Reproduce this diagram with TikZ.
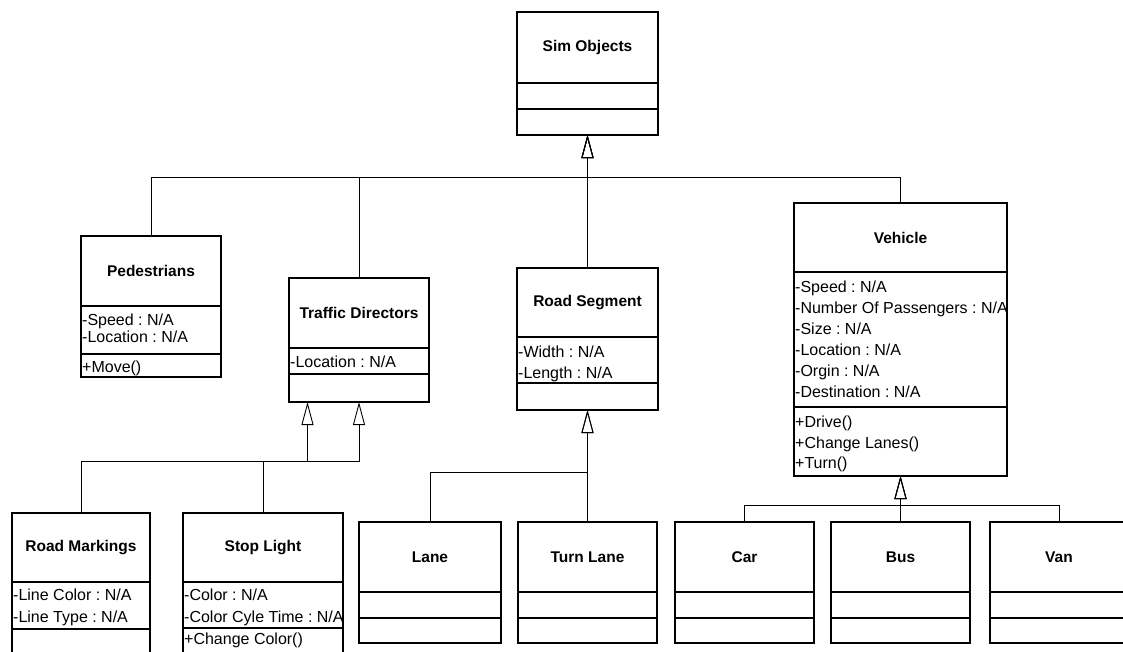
\documentclass[tikz,border=0pt]{standalone}
\usepackage{fontspec}
\setmainfont{Liberation Sans}
\usetikzlibrary{arrows.meta}
\frenchspacing

\tikzset{
  classbox/.style={draw, line width=1.1pt, inner sep=0pt, outer sep=0pt, fill=white},
  divider/.style={line width=1.1pt},
  classname/.style={font=\fontsize{15.5}{18}\selectfont\bfseries, inner sep=0pt},
  member/.style={font=\fontsize{16}{19}\selectfont, inner sep=0pt, anchor=base west},
  gen/.style={line width=0.9pt, -{Triangle[open, length=23pt, width=12pt, line width=0.9pt]}},
}

% UML class box: name, left, top, right, divider 1, divider 2, bottom, title
\newcommand\umlclass[8]{%
  \pgfmathsetmacro\clsW{#4-#2}%
  \pgfmathsetmacro\clsH{#7-#3}%
  \node[classbox, minimum width=\clsW pt, minimum height=\clsH pt] (#1) at ({(#2+#4)/2},{(#3+#7)/2}) {};
  \draw[divider] (#2,#5) -- (#4,#5);
  \draw[divider] (#2,#6) -- (#4,#6);
  \node[classname] (#1-name) at ({(#2+#4)/2},{(#3+#5)/2}) {#8};
}

% member lines: node prefix, x, first baseline, line step, list of lines
\newcommand\members[5]{%
  \foreach \mtext [count=\mi] in {#5} {
    \node[member] (#1\mi) at (#2,{#3+(\mi-1)*#4}) {\mtext};
  }
}

\begin{document}
\begin{tikzpicture}[x=1pt, y=-1pt]
  \clip (0,0) rectangle (1123,651);
  \fill[white] (0,0) rectangle (1123,651);

  % classes
  \umlclass{sim}{517}{12}{658}{83}{109}{135}{Sim Objects}
  \umlclass{ped}{81}{236}{221}{306}{354}{377}{Pedestrians}
  \umlclass{td}{289}{278}{429}{348}{374}{402}{Traffic Directors}
  \umlclass{rs}{517}{268}{658}{337}{383}{410}{Road Segment}
  \umlclass{veh}{794}{203}{1007}{272}{407}{476}{Vehicle}
  \umlclass{rm}{12}{513}{150}{582}{629}{668}{Road Markings}
  \umlclass{sl}{183}{513}{343}{582}{628}{668}{Stop Light}
  \umlclass{lane}{359}{522}{501}{592}{618}{643}{Lane}
  \umlclass{tlane}{518}{522}{657}{592}{618}{643}{Turn Lane}
  \umlclass{car}{675}{522}{814}{592}{618}{643}{Car}
  \umlclass{bus}{831}{522}{970}{592}{618}{643}{Bus}
  \umlclass{van}{990}{522}{1128}{592}{618}{643}{Van}

  % attributes and operations
  \members{ped-a}{82}{325.5}{17}{-Speed : N/A, -Location : N/A}
  \members{ped-m}{82}{372.5}{17}{+Move()}
  \members{td-a}{290}{367.5}{17}{-Location : N/A}
  \members{rs-a}{518}{357.5}{21}{-Width : N/A, -Length : N/A}
  \members{veh-a}{795}{292}{21}{-Speed : N/A, -Number Of Passengers : N/A, -Size : N/A, -Location : N/A, -Orgin : N/A, -Destination : N/A}
  \members{veh-m}{795}{427.5}{20.5}{+Drive(), +Change Lanes(), +Turn()}
  \members{rm-a}{13}{600.5}{22}{-Line Color : N/A, -Line Type : N/A}
  \members{sl-a}{184}{600.5}{22}{-Color : N/A, -Color Cyle Time : N/A}
  \members{sl-m}{184}{644.5}{22}{+Change Color()}

  % junction points of the generalization trees
  \coordinate (simbus) at (587.5,177);
  \coordinate (tdL) at (307.5,402);
  \coordinate (tdbusL) at (307.5,461);
  \coordinate (tdbusR) at (359,461);
  \coordinate (rsbus) at (587.5,472);
  \coordinate (vbus) at (900.5,505);

  % generalizations to Sim Objects
  \draw[gen] (ped.north) |- (simbus) -- (sim.south);
  \draw[gen] (td.north) |- (simbus) -- (sim.south);
  \draw[gen] (veh.north) |- (simbus) -- (sim.south);
  \draw[gen] (rs.north) -- (sim.south);

  % generalizations to Traffic Directors
  \draw[gen] (rm.north) |- (tdbusL) -- (tdL);
  \draw[gen] (sl.north) |- (tdbusR) -- (td.south);

  % generalizations to Road Segment
  \draw[gen] (lane.north) |- (rsbus) -- (rs.south);
  \draw[gen] (tlane.north) -- (rs.south);

  % generalizations to Vehicle
  \draw[gen] (car.north) |- (vbus) -- (veh.south);
  \draw[gen] (bus.north) -- (veh.south);
  \draw[gen] (van.north) |- (vbus) -- (veh.south);
\end{tikzpicture}
\end{document}
